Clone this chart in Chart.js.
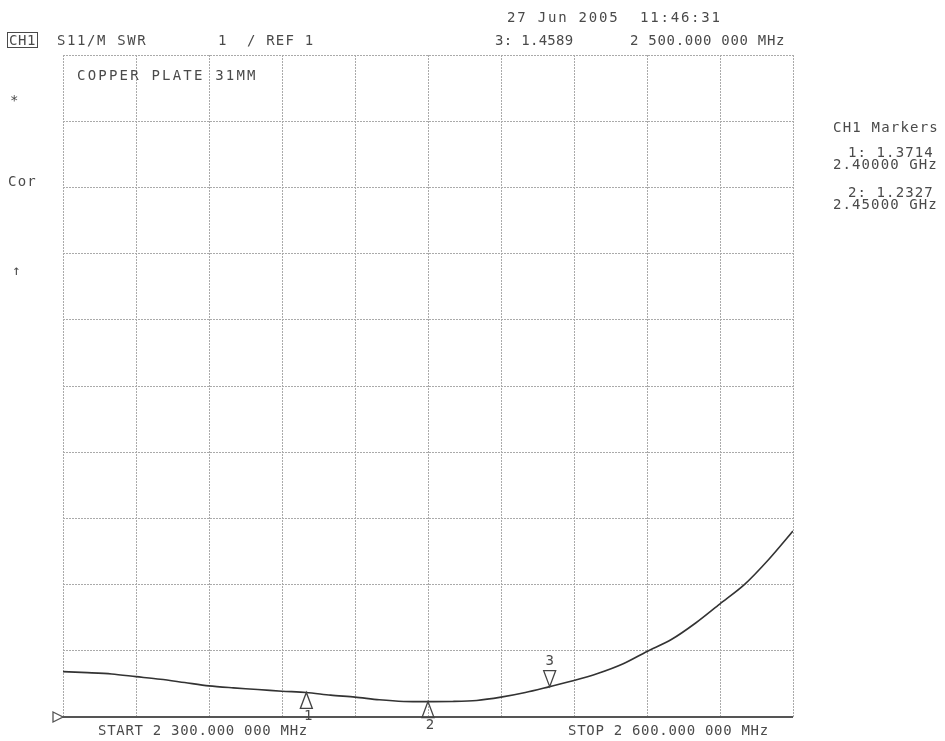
<!DOCTYPE html>
<html>
<head>
<meta charset="utf-8">
<script src="https://cdn.jsdelivr.net/npm/chart.js@4"></script>
<style>
  html, body { margin: 0; padding: 0; background: #fff; }
  #wrap { position: relative; width: 945px; height: 741px; overflow: hidden; }
  #plot { position: absolute; left: 0; top: 0; }
  .lbl {
    position: absolute;
    font-family: "DejaVu Sans Mono", monospace;
    font-size: 14px;
    line-height: 1;
    color: #4a4a4a;
    white-space: pre;
    transform: translateY(-50%);
  }
  .boxed { border: 1px solid #4a4a4a; padding: 0 1px; }
</style>
</head>
<body>
<div id="wrap">
  <canvas id="plot" width="945" height="741"></canvas>
  <div id="labels"></div>
</div>
<script>
// sweep 2300 - 2600 MHz, SWR every 10 MHz
const freqMHz = [2300, 2310, 2320, 2330, 2340, 2350, 2360, 2370, 2380, 2390,
                 2400, 2410, 2420, 2430, 2440, 2450, 2460, 2470, 2480, 2490,
                 2500, 2510, 2520, 2530, 2540, 2550, 2560, 2570, 2580, 2590, 2600];
const swrValues = [1.685, 1.67, 1.65, 1.61, 1.57, 1.52, 1.47, 1.44, 1.415, 1.39,
                   1.371, 1.33, 1.30, 1.26, 1.235, 1.233, 1.235, 1.25, 1.30, 1.37,
                   1.459, 1.55, 1.66, 1.80, 1.99, 2.17, 2.42, 2.71, 3.00, 3.38, 3.81];

const markerIds = ["1", "2", "3"];
const markerFreqs = [2400, 2450, 2500];
const markerSwr = [1.3714, 1.2327, 1.4589];

const xTicks = [2300, 2330, 2360, 2390, 2420, 2450, 2480, 2510, 2540, 2570, 2600];
const yTicks = [1, 2, 3, 4, 5, 6, 7, 8, 9, 10, 11];

// [text, left, centerY, letterSpacing, extra class]
const textItems = [
  ["27 Jun 2005  11:46:31", 507, 17, 1.8, ""],
  ["CH1", 7, 40, 0.6, "boxed"],
  ["S11/M SWR", 57, 40, 1.6, ""],
  ["1  / REF 1", 218, 40, 1.2, ""],
  ["3: 1.4589", 495, 40, 0.3, ""],
  ["2 500.000 000 MHz", 630, 40, 0.7, ""],
  ["COPPER PLATE 31MM", 77, 75, 2.2, ""],
  ["*", 10, 100, 0, ""],
  ["Cor", 8, 181, 1.2, ""],
  ["\u2191", 12, 270, 0, ""],
  ["CH1 Markers", 833, 127, 1.2, ""],
  ["1: 1.3714", 848, 152, 1.1, ""],
  ["2.40000 GHz", 833, 164, 1.1, ""],
  ["2: 1.2327", 848, 192, 1.1, ""],
  ["2.45000 GHz", 833, 204, 1.1, ""],
  ["START 2 300.000 000 MHz", 98, 730, 0.7, ""],
  ["STOP 2 600.000 000 MHz", 568, 730, 0.7, ""]
];

const labelBox = document.getElementById("labels");
textItems.forEach(([text, left, cy, ls, cls]) => {
  const d = document.createElement("div");
  d.className = "lbl " + cls;
  d.textContent = text;
  d.style.left = left + "px";
  d.style.top = cy + "px";
  d.style.letterSpacing = ls + "px";
  labelBox.appendChild(d);
});

const markerPlugin = {
  id: "markers",
  afterDatasetsDraw(chart) {
    const { ctx, scales: { x, y } } = chart;
    const base = y.getPixelForValue(1);
    ctx.save();
    // reference line and reference arrow
    ctx.strokeStyle = "#555";
    ctx.lineWidth = 2;
    ctx.beginPath();
    ctx.moveTo(x.left - 10, base);
    ctx.lineTo(x.right, base);
    ctx.stroke();
    ctx.lineWidth = 1.3;
    ctx.beginPath();
    ctx.moveTo(x.left - 10, base - 5);
    ctx.lineTo(x.left, base);
    ctx.lineTo(x.left - 10, base + 5);
    ctx.closePath();
    ctx.fillStyle = "#fff";
    ctx.fill();
    ctx.stroke();

    ctx.font = "14px 'DejaVu Sans Mono', monospace";
    ctx.fillStyle = "#4a4a4a";
    ctx.strokeStyle = "#444";
    ctx.textAlign = "center";
    ctx.textBaseline = "middle";
    markerIds.forEach((id, i) => {
      const px = x.getPixelForValue(markerFreqs[i]);
      const py = y.getPixelForValue(markerSwr[i]);
      ctx.beginPath();
      if (id === "3") {
        // pointing down, above the trace
        ctx.moveTo(px, py);
        ctx.lineTo(px - 6, py - 16);
        ctx.lineTo(px + 6, py - 16);
        ctx.closePath();
        ctx.stroke();
        ctx.fillText(id, px, py - 25);
      } else {
        ctx.moveTo(px, py);
        ctx.lineTo(px - 6, py + 16);
        ctx.lineTo(px + 6, py + 16);
        ctx.closePath();
        ctx.stroke();
        ctx.fillText(id, px + 2, py + 24);
      }
    });
    ctx.restore();
  }
};

new Chart(document.getElementById("plot"), {
  type: "line",
  data: {
    datasets: [{
      data: freqMHz.map((f, i) => ({ x: f, y: swrValues[i] })),
      borderColor: "#333",
      borderWidth: 1.6,
      pointRadius: 0,
      tension: 0.3,
      fill: false
    }]
  },
  options: {
    responsive: false,
    animation: false,
    layout: { padding: { left: 63, right: 152, top: 55, bottom: 24 } },
    plugins: { legend: { display: false }, tooltip: { enabled: false } },
    scales: {
      x: {
        type: "linear",
        min: 2300,
        max: 2600,
        afterBuildTicks: (axis) => { axis.ticks = xTicks.map(v => ({ value: v })); },
        ticks: { display: false },
        grid: { color: "#aaa", lineWidth: 1, drawTicks: false },
        border: { display: false, dash: [2, 1] }
      },
      y: {
        min: 1,
        max: 11,
        afterBuildTicks: (axis) => { axis.ticks = yTicks.map(v => ({ value: v })); },
        ticks: { display: false },
        grid: { color: "#aaa", lineWidth: 1, drawTicks: false },
        border: { display: false, dash: [2, 1] }
      }
    }
  },
  plugins: [markerPlugin]
});
</script>
</body>
</html>
